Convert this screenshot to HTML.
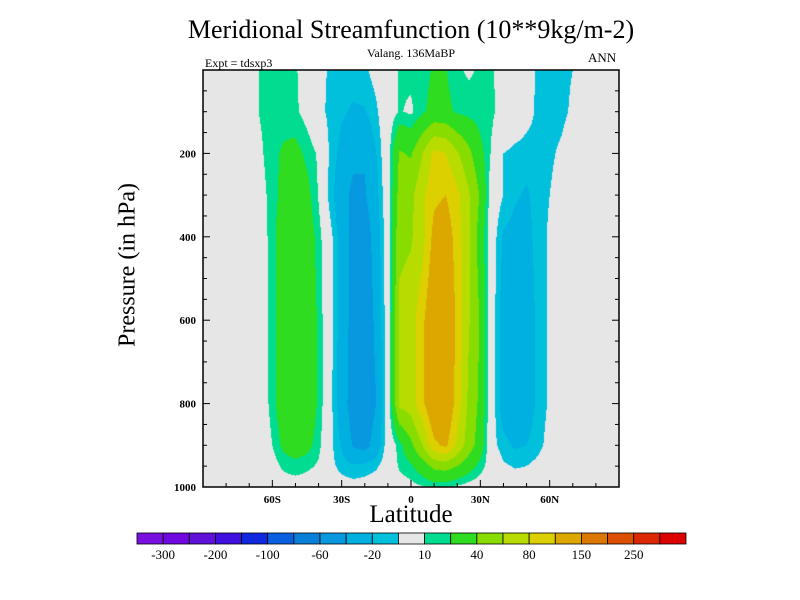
<!DOCTYPE html>
<html><head><meta charset="utf-8">
<style>
html,body{margin:0;padding:0;background:#fff;}
body{width:800px;height:600px;position:relative;overflow:hidden;font-family:"Liberation Serif",serif;}
.t{position:absolute;white-space:nowrap;color:#000;}
</style></head>
<body>
<div class="t" style="left:0;width:822px;text-align:center;top:15px;font-size:26px;">Meridional Streamfunction (10**9kg/m-2)</div>
<div class="t" style="left:0;width:822px;text-align:center;top:46px;font-size:12px;">Valang. 136MaBP</div>
<div class="t" style="left:205px;top:56px;font-size:12px;">Expt = tdsxp3</div>
<div class="t" style="left:588px;top:50px;font-size:13px;">ANN</div>
<div class="t" style="left:128px;top:265px;font-size:24px;transform:translate(-50%,-50%) rotate(-90deg);">Pressure (in hPa)</div>
<div class="t" style="left:0;width:822px;text-align:center;top:501px;font-size:25px;">Latitude</div>
<canvas id="cv" width="800" height="600" style="position:absolute;left:0;top:0;"></canvas>
<svg id="ov" width="800" height="600" style="position:absolute;left:0;top:0;"></svg>
<script>
const lats=[-90,-85,-80,-75,-70,-65,-60,-55,-50,-45,-40,-35,-30,-25,-20,-15,-10,-5,0,5,10,15,20,25,30,35,40,45,50,55,60,65,70,75,80,85,90];
const pressures=[0,100,200,300,400,600,800,900,950,1000];
const row0=[0,0,0,0,5,11,14,14,11,5,-5,-12,-14,-14,-12,-5,3,11,13,15,22,21,12,8,12,11,5,0,-5,-12,-14,-13,-10,-4,0,0,0];
const row100=[0,0,0,0,5,11,15,15,12,5,-6,-13,-18,-22,-21,-12,2,11,8,18,25,24,18,16,14,12,5,0,-6,-12,-14,-13,-8,-3,0,0,0];
const row200=[0,0,0,0,4,8,17,22,25,17,8,-12,-25,-35,-38,-20,3,42,38,60,85,80,62,45,25,8,-10,-13,-14,-13,-12,-8,-2,0,0,0,0];
const row300=[0,0,0,0,0,5,15,25,28,25,9,-15,-32,-45,-42,-25,2,48,55,75,95,100,85,62,38,0,-10,-18,-22,-15,-10,-5,0,0,0,0,0];
const row400=[0,0,0,0,0,3,15,32,34,30,15,-5,-28,-48,-52,-30,0,55,58,72,108,115,90,62,30,-2,-22,-26,-24,-16,-8,-2,0,0,0,0,0];
const row600=[0,0,0,0,0,2,14,33,34,32,18,-5,-28,-48,-55,-35,0,65,70,95,125,125,95,62,38,-3,-28,-30,-28,-17,-8,0,0,0,0,0,0];
const row800=[0,0,0,0,0,2,14,33,34,32,18,-5,-30,-50,-56,-40,0,65,70,95,125,125,90,55,35,-3,-28,-30,-28,-17,-8,0,0,0,0,0,0];
const row900=[0,0,0,0,0,1,10,24,28,25,14,-6,-22,-42,-48,-30,-2,15,35,60,95,105,75,50,30,-5,-16,-22,-20,-14,-5,0,0,0,0,0,0];
const row950=[0,0,0,0,0,0,4,13,16,13,8,-6,-14,-18,-16,-12,-2,12,18,30,45,48,40,28,15,2,-8,-11,-10,-6,0,0,0,0,0,0,0];
const row1000=[0,0,0,0,0,0,0,2,3,2,0,-2,-4,-5,-4,-2,0,3,6,9,13,12,8,4,2,0,-2,-3,-3,-1,0,0,0,0,0,0,0];
const grid=[row0,row100,row200,row300,row400,row600,row800,row900,row950,row1000];
const levels=[-300,-250,-200,-150,-100,-80,-60,-40,-20,-10,10,20,40,60,80,100,150,200,250,300];
const levelLabels=["-300","-200","-100","-60","-20","10","40","80","150","250"];
const colors=["#7a10e0","#7008e0","#6010d8","#4010e0","#1028e0","#0860e0","#0880d8","#0898e0","#00b0e0","#00c0dc","#e6e6e6","#00dc90","#30dc20","#88dc00","#b8dc00","#dcd000","#dca800","#dc7800","#dc5000","#dc2800","#dc0000"];
const xTickVals=[-60,-30,0,30,60];
const xTickLabels=["60S","30S","0","30N","60N"];
const yTickVals=[200,400,600,800,1000];

const L=203,R=619,T=70,B=487;
function xs(lat){return L+(lat+90)/180*(R-L);}
function ys(p){return T+p/1000*(B-T);}
function val(lat,p){
  let i=Math.min(lats.length-2,Math.max(0,Math.floor((lat+90)/5)));
  let fx=(lat-lats[i])/(lats[i+1]-lats[i]);fx=Math.max(0,Math.min(1,fx));
  let j=0;while(j<pressures.length-2&&p>pressures[j+1])j++;
  let fy=(p-pressures[j])/(pressures[j+1]-pressures[j]);fy=Math.max(0,Math.min(1,fy));
  const a=grid[j][i],b=grid[j][i+1],c=grid[j+1][i],d=grid[j+1][i+1];
  return (a*(1-fx)+b*fx)*(1-fy)+(c*(1-fx)+d*fx)*fy;
}
function colIdx(v){let k=0;while(k<levels.length&&v>=levels[k])k++;return k;}
const cv=document.getElementById('cv');const ctx=cv.getContext('2d');
const rgb=colors.map(h=>[parseInt(h.substr(1,2),16),parseInt(h.substr(3,2),16),parseInt(h.substr(5,2),16)]);
const W=R-L,H=B-T;const img=ctx.createImageData(W,H);
for(let y=0;y<H;y++){const p=(y+0.5)/H*1000;for(let x=0;x<W;x++){const lat=-90+(x+0.5)/W*180;const c=rgb[colIdx(val(lat,p))];const o=(y*W+x)*4;img.data[o]=c[0];img.data[o+1]=c[1];img.data[o+2]=c[2];img.data[o+3]=255;}}
ctx.putImageData(img,L,T);

const NS='http://www.w3.org/2000/svg';const sv=document.getElementById('ov');
function el(tag,attrs,parent){const e=document.createElementNS(NS,tag);for(const k in attrs)e.setAttribute(k,attrs[k]);(parent||sv).appendChild(e);return e;}
const frame=el('rect',{x:L,y:T,width:R-L,height:B-T,fill:'none',stroke:'#000','stroke-width':1.5});


for(let lat=-80;lat<=80;lat+=10){const major=lat%30===0;const len=major?7:4;
  const t=el('line',{x1:xs(lat),x2:xs(lat),y1:B,y2:B-len,stroke:'#000','stroke-width':1});
  
  }
xTickVals.forEach((v,i)=>{const t=el('text',{x:xs(v),y:B+16,'text-anchor':'middle','font-size':11,'font-weight':'bold','font-family':'Liberation Serif, serif'});t.textContent=xTickLabels[i];
  
  });
for(let p=50;p<1000;p+=50){const major=p%200===0;const len=major?7:4;
  const t1=el('line',{x1:L,x2:L+len,y1:ys(p),y2:ys(p),stroke:'#000','stroke-width':1});
  
  
  const t2=el('line',{x1:R,x2:R-len,y1:ys(p),y2:ys(p),stroke:'#000','stroke-width':1});
  
  }
yTickVals.forEach(v=>{const t=el('text',{x:L-7,y:ys(v)+4,'text-anchor':'end','font-size':11,'font-weight':'bold','font-family':'Liberation Serif, serif'});t.textContent=String(v);
  
  });
const cbL=137,cbR=686,cbT=533,cbB=544;const bw=(cbR-cbL)/colors.length;
colors.forEach((c,i)=>{const r=el('rect',{x:cbL+i*bw,y:cbT,width:bw,height:cbB-cbT,fill:c,stroke:'#000','stroke-width':0.8});
  
  });
levelLabels.forEach((s,i)=>{const t=el('text',{x:cbL+(2*i+1)*bw,y:cbB+15,'text-anchor':'middle','font-size':13,'font-family':'Liberation Serif, serif'});t.textContent=s;
  
  });
</script>
</body></html>
